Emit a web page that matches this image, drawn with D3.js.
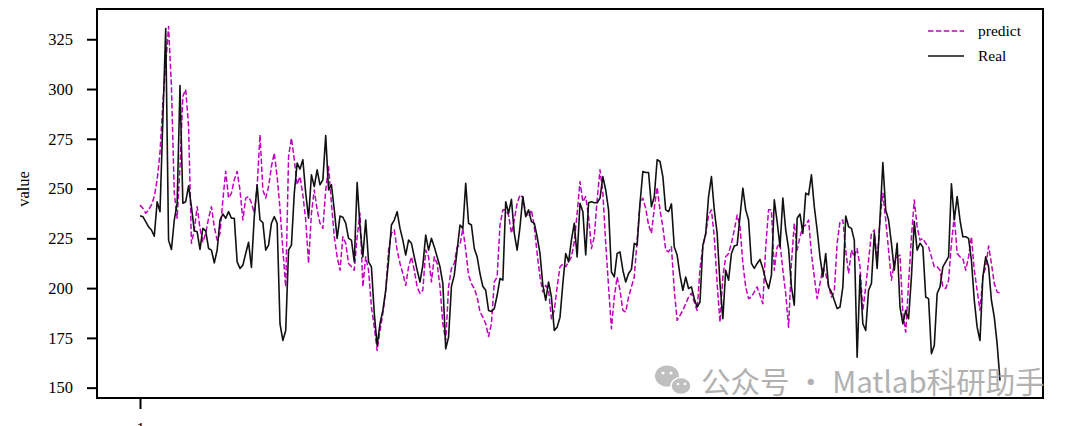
<!DOCTYPE html>
<html>
<head>
<meta charset="utf-8">
<script src="https://cdn.jsdelivr.net/npm/d3@7"></script>
<style>
  html, body { margin: 0; padding: 0; background: #ffffff; }
  svg { display: block; }
</style>
</head>
<body>
<svg id="chart" width="1080" height="426"></svg>
<script>
// ---- data ----
const yTicks = [150, 175, 200, 225, 250, 275, 300, 325];
const xTicks = [1];
const seriesNames = ["predict", "Real"];

const real = [
236.4,235.9,233.4,230.8,229.2,226.1,243.4,238.4,284.6,330.4,
224.1,219.4,234.2,242.6,301.8,242.6,243.4,251.4,240.9,228.8,
228.3,219.4,230,228.8,219.9,219.1,212.7,219.1,234.2,237.2,
235.1,238.4,235.1,235.1,213.2,209.9,211.5,217.4,223,210.4,
235.9,251.9,234.2,232.9,219.1,221.6,232.6,235.9,232.6,182.1,
173.7,178.7,219.1,221.6,247.7,262.8,259.8,264.5,247.7,235.1,
256.9,251,259.4,251.9,254.4,276.6,249.3,251.9,239.3,225,
236.2,235.6,232.6,225,224.1,213.2,253,230.8,215.7,234.2,
213.2,210.7,187.2,171.2,182.1,188.8,198.9,214,231.7,234.2,
238.4,230,224.1,216.6,224.1,222.5,215.7,209,203.1,211.5,
226.6,219.1,225,220.7,215.7,210.7,202.3,169.5,175.4,200.8,
206.5,219.1,231.7,230,252.7,232.6,231.7,219.9,215.7,207.3,
200.8,198.9,188.8,188.3,189.7,196.4,204.8,204,243.4,237.6,
244.6,227.5,219.1,230.8,246,235.9,239.3,233.4,232.6,225.8,
217.4,201.4,193.9,203.1,195.5,178.7,180.4,185.4,202.3,217.4,
213.2,224.1,232.6,215.7,242.6,238.4,216.6,242.9,243.4,242.9,
242.9,245.2,256,249.3,239.3,208.1,205.6,217.4,218.2,209,
203.1,207.3,209.4,222.5,221.6,242.6,258.6,258.1,258.1,240.9,
246,264.5,263.6,256,239.3,238.4,242.3,220.7,216.6,206.5,
198.9,205.6,199.8,200.6,194.7,190.5,193,221.6,227.2,246,
256,239.3,227.5,202.3,184.6,209,204,217.4,221.1,221.6,
235.9,250.2,239.3,234.2,212.4,209.9,212.4,214.4,209.9,204,
199.8,206.5,244.3,233.4,220.7,245.2,229.2,219.9,200.6,191.4,
235.1,237.2,227.5,247.7,246.8,256.9,240.9,229.2,215.7,205.6,
217.4,200.6,198.1,193.9,189.7,190.5,200.6,236.2,230.8,230,
224.1,165.3,206.5,182.1,178.7,198.9,202.3,227.5,209.9,235,
263.1,239.3,234.2,222.5,209,222.5,190.5,182.1,188.8,184.6,
205.6,233.4,219.1,222.5,220.7,195.5,194.7,167,171.2,197.3,
200.6,210.7,213.2,215.7,252.4,234.2,246,234.2,225.8,225.8,
225,214,193.9,180.4,173.7,205.6,215.7,210.7,193.9,185.4,
172,153.5
];

const predict = [
241.8,240.1,237.6,239.3,241.8,246,254.4,267.9,293.1,312,
331.4,301.4,247.7,235.1,261.1,296.4,299.8,281.3,222.5,229.2,
240.9,230,223.3,227.5,235.1,240.9,230.8,224.1,227.5,244.3,
258.6,245.2,247.7,254.4,258.6,249.3,234.2,245.2,246,242.9,
237.6,251,277.1,249.3,245.2,251,261.1,267.9,256,240,
219.1,200.6,266.2,275.4,264.5,251.9,256,246.8,234.2,212.4,
237.6,249.3,239.3,232.6,230,249.3,261.1,242.6,225.8,215.7,
209,225.8,222.5,212.4,210.7,209,225.8,237.6,200.6,215.7,
209,190.5,180.4,168.7,178.7,187.2,198.9,219.1,227.5,229.2,
219.1,212.4,207.3,201.4,210.7,215.7,209,200.6,197.3,198.9,
219.1,215.7,203.1,215.7,212.4,200.6,182.1,173.7,200.6,209.9,
212.4,220.7,221.6,230,219.1,206.5,202.3,199.8,195.5,188,
185.4,182.1,175.7,182.1,203.1,205.6,231.7,239.3,239.3,236.7,
227.5,234.2,242.6,246.8,245.6,237.6,235.9,239.3,230.8,217.4,
205.6,198.1,201.4,198.9,184.6,188.8,200.6,210.7,212,210.7,
213.2,215.7,223.3,237.6,253.5,243.4,246,235.9,219.9,225.8,
244.3,259.4,247.7,222.5,200.6,179.6,195.5,205.6,198.9,188.8,
188,195.5,200.6,205.6,224.1,242.6,245.2,240.1,231.7,227.5,
240.1,250.7,239.3,230.8,219.1,218.2,220.7,198.9,183.8,186.3,
188.8,192.2,195.5,197.5,193,188.8,209.9,220.7,227.5,236.7,
239.3,225.8,202.3,182.9,205.6,215.7,217.4,222.5,229.2,236.7,
230.8,212.4,200.6,194.7,195.5,198.1,200.6,196.4,192.2,220.7,
239.3,239.3,209,220.7,222.5,209,197.3,180.4,212.4,232.6,
219.1,225.8,230.8,231.7,234.2,217.4,205.6,194.7,202.3,209.9,
207.3,201.4,195.5,198.1,222.5,233.4,234.2,219.1,207.3,219.1,
215.7,219.9,210.7,188.8,200.6,214,227.5,229.2,213.2,234.2,
247.7,234.2,219.1,204,212.4,215.7,216.6,187.2,177.9,202.3,
225.8,244.3,230.8,224.1,225,222.5,220.7,215.7,210.7,210.7,
209,200.6,199.8,204,222.5,235.9,217.4,215.7,214.9,209,
215.7,225.8,209,198.9,188.8,205.6,210.7,221.1,212.4,202.3,
198.1,197.3
];

// ---- layout ----
const svg = d3.select("#chart");
const frame = { left: 97, right: 1043, top: 9, bottom: 398 };
const N = real.length;
const pad = (N - 1) * 0.05;

const x = d3.scaleLinear()
  .domain([1 - pad, N + pad])
  .range([frame.left, frame.right]);
const y = d3.scaleLinear()
  .domain([144.8, 340.2])
  .range([frame.bottom, frame.top]);

const serif = "'Liberation Serif', 'Times New Roman', serif";

// lines
const line = d3.line()
  .x((d, i) => x(i + 1))
  .y(d => y(d));

const plot = svg.append("g");
plot.append("path")
  .datum(predict)
  .attr("d", line)
  .attr("fill", "none")
  .attr("stroke", "#bf00bf")
  .attr("stroke-width", 1.5)
  .attr("stroke-dasharray", "5.5,2.4")
  .attr("stroke-linejoin", "round");

plot.append("path")
  .datum(real)
  .attr("d", line)
  .attr("fill", "none")
  .attr("stroke", "#111111")
  .attr("stroke-width", 1.6)
  .attr("stroke-linejoin", "round");

// frame
svg.append("rect")
  .attr("x", frame.left).attr("y", frame.top)
  .attr("width", frame.right - frame.left)
  .attr("height", frame.bottom - frame.top)
  .attr("fill", "none")
  .attr("stroke", "#000")
  .attr("stroke-width", 2);

// y axis
const yAxis = d3.axisLeft(y)
  .tickValues(yTicks)
  .tickSize(10)
  .tickPadding(14)
  .tickFormat(d3.format("d"));
const gy = svg.append("g")
  .attr("transform", `translate(${frame.left},0)`)
  .call(yAxis);
gy.select(".domain").remove();
gy.selectAll(".tick line").attr("stroke", "#000").attr("stroke-width", 2);
gy.selectAll(".tick text")
  .attr("font-family", serif)
  .attr("font-size", 16.5)
  .attr("fill", "#000");

// x axis (its only tick label sits at the bottom edge, as in the reference)
const xAxis = d3.axisBottom(x)
  .tickValues(xTicks)
  .tickSize(11)
  .tickPadding(13)
  .tickFormat(d3.format("d"));
const gx = svg.append("g")
  .attr("transform", `translate(0,${frame.bottom})`)
  .call(xAxis);
gx.select(".domain").remove();
gx.selectAll(".tick line").attr("stroke", "#000").attr("stroke-width", 2);
gx.selectAll(".tick text")
  .attr("font-family", serif)
  .attr("font-size", 16.5)
  .attr("fill", "#000");

// y label
svg.append("text")
  .attr("transform", "translate(29,189) rotate(-90)")
  .attr("text-anchor", "middle")
  .attr("font-family", serif)
  .attr("font-size", 16.5)
  .attr("fill", "#000")
  .text("value");

// legend
const legend = svg.append("g");
const legendItems = [
  { name: seriesNames[0], color: "#bf00bf", dash: "5.5,2.4", y: 31 },
  { name: seriesNames[1], color: "#111111", dash: null, y: 56 }
];
legendItems.forEach(it => {
  legend.append("line")
    .attr("x1", 928).attr("x2", 964)
    .attr("y1", it.y).attr("y2", it.y)
    .attr("stroke", it.color)
    .attr("stroke-width", 1.5)
    .attr("stroke-dasharray", it.dash);
  legend.append("text")
    .attr("x", 978).attr("y", it.y + 5)
    .attr("font-family", serif)
    .attr("font-size", 15.5)
    .attr("fill", "#000")
    .text(it.name);
});

// watermark
const wm = svg.append("g").attr("opacity", 0.85);
wm.append("ellipse").attr("cx", 667).attr("cy", 376).attr("rx", 12).attr("ry", 10.5).attr("fill", "#b4b4b4");
wm.append("ellipse").attr("cx", 681).attr("cy", 386).attr("rx", 10).attr("ry", 8.5).attr("fill", "#b4b4b4").attr("stroke", "#fff").attr("stroke-width", 1.5);
wm.append("circle").attr("cx", 663).attr("cy", 373).attr("r", 1.6).attr("fill", "#fff");
wm.append("circle").attr("cx", 671).attr("cy", 373).attr("r", 1.6).attr("fill", "#fff");
wm.append("circle").attr("cx", 678).attr("cy", 384).attr("r", 1.3).attr("fill", "#fff");
wm.append("circle").attr("cx", 685).attr("cy", 384).attr("r", 1.3).attr("fill", "#fff");
wm.append("text")
  .attr("x", 701).attr("y", 393)
  .attr("font-family", "'Noto Sans CJK SC', 'Noto Sans', sans-serif")
  .attr("font-size", 29.5)
  .attr("fill", "#a4a4a4")
  .text("公众号 · Matlab科研助手");
</script>
</body>
</html>
